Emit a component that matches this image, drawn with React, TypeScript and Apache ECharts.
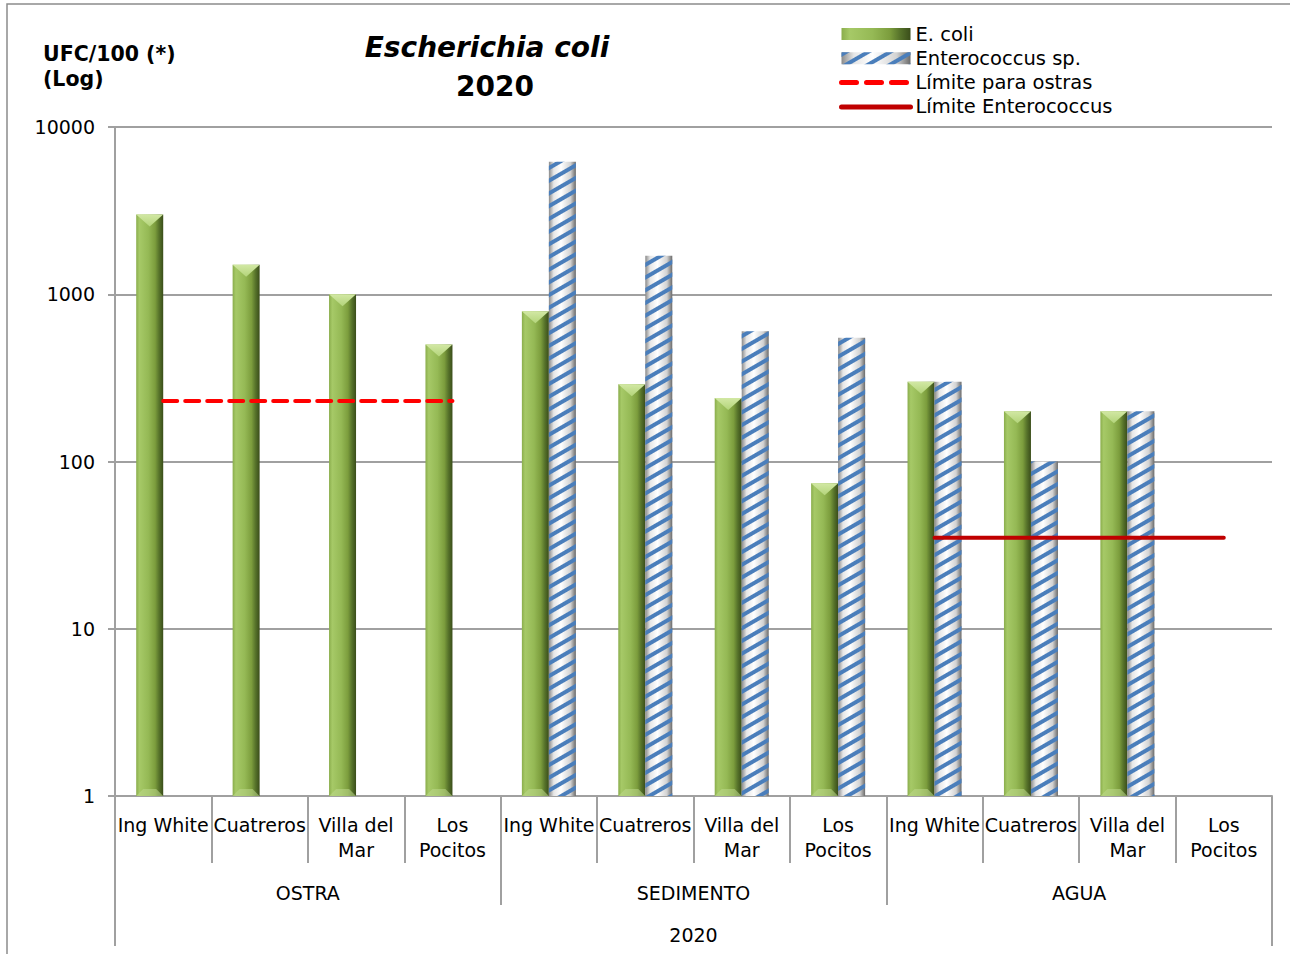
import React, { useEffect, useRef } from "react";
import * as echarts from "echarts";

// Sampling sites, repeated for every matrix
const sites = ["Ing White", "Cuatreros", "Villa del\nMar", "Los\nPocitos"];
const matrices = ["OSTRA", "SEDIMENTO", "AGUA"];
const yearLabel = ["2020"];
const categories = matrices.flatMap(() => sites);

// UFC/100 values per category (null = not measured)
const ecoli = [3000, 1500, 1000, 500, 790, 290, 240, 74, 300, 200, 200, null];
const enterococcus = [null, null, null, null, 6200, 1700, 600, 550, 300, 100, 200, null];

// Regulatory limits
const limiteOstras = [230, 230, 230, 230, null, null, null, null, null, null, null, null];
const limiteEnterococcus = [null, null, null, null, null, null, null, null, 35, 35, 35, 35];

// Log axis ticks
const yTicks = [1, 10, 100, 1000, 10000];

const FONT = "DejaVu Sans";
const BAR_W = 27;
const GREY = "#a0a0a0";

const toSeries = (arr: (number | null)[]) => arr.map((v) => (v == null ? "-" : v));

export default function App() {
  const ref = useRef<HTMLDivElement>(null);

  useEffect(() => {
    if (!ref.current) return;
    const chart = echarts.init(ref.current, undefined, { renderer: "svg" });

    const greenFill = new echarts.graphic.LinearGradient(0, 0, 1, 0, [
      { offset: 0, color: "#8aad4c" },
      { offset: 0.12, color: "#a6c967" },
      { offset: 0.45, color: "#95b955" },
      { offset: 0.7, color: "#7c9d3d" },
      { offset: 0.85, color: "#56722a" },
      { offset: 1, color: "#3a4d1a" },
    ]);
    const greyFill = new echarts.graphic.LinearGradient(0, 0, 1, 0, [
      { offset: 0, color: "#8a8a8a" },
      { offset: 0.18, color: "#e6e6e6" },
      { offset: 0.45, color: "#ffffff" },
      { offset: 0.8, color: "#d2d2d2" },
      { offset: 1, color: "#6a6a6a" },
    ]);

    const hiddenSymbol = { color: "rgba(0,0,0,0)", borderWidth: 0, opacity: 0 };

    const option: any = {
      animation: false,
      textStyle: { fontFamily: FONT },
      grid: { left: 115, right: 18, top: 127, bottom: 158, containLabel: false },
      graphic: [
        {
          type: "rect",
          shape: { x: 7, y: 4, width: 1400, height: 1100 },
          style: { fill: "none", stroke: "#8c8c8c", lineWidth: 1.5 },
          silent: true,
        },
        {
          type: "text",
          x: 487,
          y: 47,
          style: {
            text: "Escherichia coli",
            font: `italic bold 28px "${FONT}"`,
            fill: "#000",
            align: "center",
            verticalAlign: "middle",
          },
        },
        {
          type: "text",
          x: 495,
          y: 86,
          style: {
            text: "2020",
            font: `bold 28px "${FONT}"`,
            fill: "#000",
            align: "center",
            verticalAlign: "middle",
          },
        },
        {
          type: "text",
          x: 43,
          y: 66,
          style: {
            text: "UFC/100 (*)\n(Log)",
            font: `bold 20.5px "${FONT}"`,
            lineHeight: 25,
            fill: "#000",
            align: "left",
            verticalAlign: "middle",
          },
        },
      ],
      legend: {
        orient: "vertical",
        left: 834,
        top: 19,
        itemWidth: 69,
        itemHeight: 12,
        itemGap: 4.3,
        itemTextGap: 7,
        textStyle: { fontFamily: FONT, fontSize: 19.5, lineHeight: 20, color: "#000" },
        data: [
          { name: "E. coli", icon: "rect" },
          { name: "Enterococcus sp.", icon: "rect" },
          {
            name: "Límite para ostras",
            itemStyle: hiddenSymbol,
            lineStyle: { color: "#ff0000", width: 5, type: [15, 10], cap: "round" },
          },
          {
            name: "Límite Enterococcus",
            itemStyle: hiddenSymbol,
            lineStyle: { color: "#c00000", width: 5, cap: "round" },
          },
        ],
      },
      xAxis: [
        {
          type: "category",
          data: categories,
          position: "bottom",
          axisLine: { show: true, lineStyle: { color: GREY, width: 2 } },
          axisTick: { show: true, length: 67, interval: 0, lineStyle: { color: GREY, width: 2 } },
          axisLabel: {
            interval: 0,
            margin: 16,
            fontFamily: FONT,
            fontSize: 19,
            lineHeight: 25,
            color: "#000",
          },
        },
        {
          type: "category",
          data: matrices,
          position: "bottom",
          axisLine: { show: false },
          axisTick: { show: true, length: 109, interval: 0, lineStyle: { color: GREY, width: 2 } },
          axisLabel: { interval: 0, margin: 84, fontFamily: FONT, fontSize: 19, lineHeight: 25, color: "#000" },
        },
        {
          type: "category",
          data: yearLabel,
          position: "bottom",
          axisLine: { show: false },
          axisTick: { show: true, length: 150, interval: 0, lineStyle: { color: GREY, width: 2 } },
          axisLabel: { interval: 0, margin: 126, fontFamily: FONT, fontSize: 19, lineHeight: 25, color: "#000" },
        },
      ],
      yAxis: {
        type: "log",
        logBase: 10,
        min: yTicks[0],
        max: yTicks[yTicks.length - 1],
        axisLine: { show: true, lineStyle: { color: GREY, width: 2 } },
        axisTick: { show: true, length: 7, lineStyle: { color: GREY, width: 2 } },
        splitLine: { show: true, lineStyle: { color: GREY, width: 2 } },
        axisLabel: {
          margin: 20,
          fontFamily: FONT,
          fontSize: 19,
          color: "#000",
          formatter: (v: number) => {
            const t = yTicks.find((k) => Math.abs(k - v) < 1e-6 * k);
            return String(t ?? Math.round(v));
          },
        },
      },
      series: [
        {
          name: "E. coli",
          type: "bar",
          data: toSeries(ecoli),
          barWidth: BAR_W,
          barGap: "0%",
          itemStyle: { color: greenFill },
          z: 2,
        },
        {
          name: "Enterococcus sp.",
          type: "bar",
          data: toSeries(enterococcus),
          barWidth: BAR_W,
          barGap: "0%",
          itemStyle: {
            color: greyFill,
            decal: {
              symbol: "rect",
              symbolSize: 1,
              color: "#4a7ebb",
              dashArrayX: [1, 0],
              dashArrayY: [4, 6.5],
              rotation: -Math.PI / 6,
            },
          },
          z: 2,
        },
        {
          // bevelled facets on top and bottom of the E. coli bars
          type: "custom",
          silent: true,
          z: 3,
          data: ecoli
            .map((v, i) => (v == null ? null : [i, v]))
            .filter((d) => d != null),
          encode: { x: 0, y: 1 },
          renderItem: (_params: any, api: any) => {
            const i = api.value(0);
            const v = api.value(1);
            const top = api.coord([i, v]);
            const base = api.coord([i, 1]);
            const x1 = top[0];
            const x0 = x1 - BAR_W;
            const mid = (x0 + x1) / 2;
            return {
              type: "group",
              children: [
                {
                  type: "polygon",
                  shape: { points: [[x0, top[1]], [x1, top[1]], [mid, top[1] + 12]] },
                  style: {
                    fill: new echarts.graphic.LinearGradient(0, 0, 0, 1, [
                      { offset: 0, color: "#d2e8a4" },
                      { offset: 1, color: "#b3d47a" },
                    ]),
                  },
                },
                {
                  type: "polygon",
                  shape: {
                    points: [[x0, base[1]], [x0 + 7, base[1] - 7], [x1 - 7, base[1] - 7], [x1, base[1]]],
                  },
                  style: { fill: "rgba(190,216,140,0.55)" },
                },
              ],
            };
          },
        },
        {
          name: "Límite para ostras",
          type: "line",
          data: toSeries(limiteOstras),
          symbol: "none",
          connectNulls: false,
          lineStyle: { color: "#ff0000", width: 4, type: [14, 8], cap: "round" },
          itemStyle: { color: "#ff0000" },
          z: 4,
        },
        {
          name: "Límite Enterococcus",
          type: "line",
          data: toSeries(limiteEnterococcus),
          symbol: "none",
          connectNulls: false,
          lineStyle: { color: "#c00000", width: 4, cap: "round" },
          itemStyle: { color: "#c00000" },
          z: 4,
        },
      ],
    };

    chart.setOption(option);
    return () => chart.dispose();
  }, []);

  return (
    <div
      ref={ref}
      style={{ position: "fixed", left: 0, top: 0, width: 1290, height: 954, background: "#fff" }}
    />
  );
}
